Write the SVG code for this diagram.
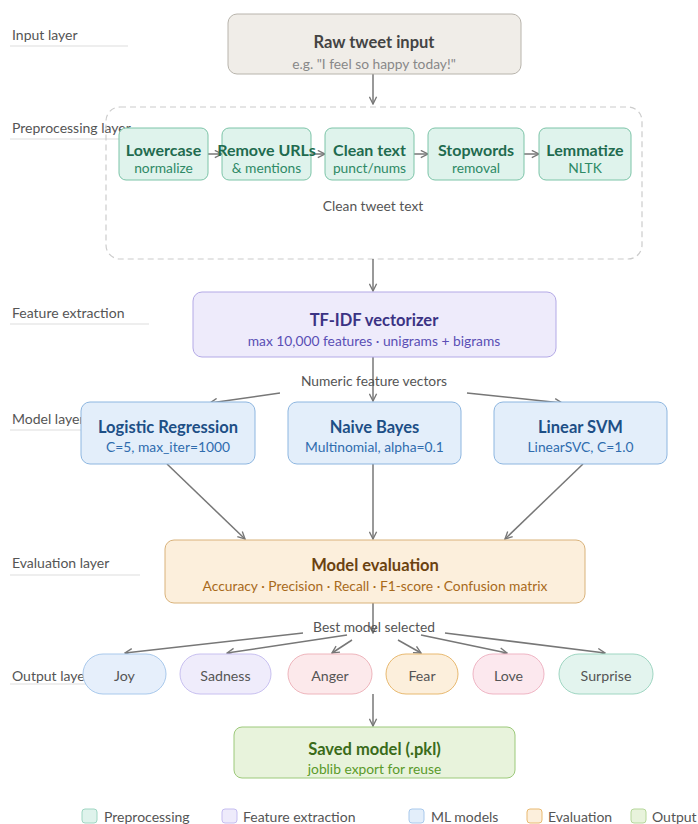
<svg xmlns="http://www.w3.org/2000/svg" width="698" height="824" viewBox="0 0 698 824">
<defs>
<marker id="ah" viewBox="0 0 10 10" refX="9" refY="5" markerWidth="9" markerHeight="9" markerUnits="userSpaceOnUse" orient="auto">
<path d="M1,1 L9,5 L1,9" fill="none" stroke="#777" stroke-width="1.5"/>
</marker>
<style>
text{font-family:Lato,"Noto Sans","Liberation Sans",sans-serif;}
.lbl{font-size:14px;fill:#555;}
.uline{stroke:#ddd;stroke-width:1.2;}
.t{font-size:16.5px;font-weight:bold;text-anchor:middle;}
.s{font-size:13.8px;text-anchor:middle;}
.c{stroke:#777;stroke-width:1.5;fill:none;marker-end:url(#ah);}
.cl{font-size:13.8px;fill:#555;text-anchor:middle;}
.pre rect{fill:#dff3ec;stroke:#7cc4a8;stroke-width:1;}
.pre .t{fill:#1f6b4f;font-size:16px;}
.pre .s{fill:#2e8a66;}
.ml rect{fill:#e3eefa;stroke:#8db6e0;stroke-width:1;}
.ml .t{fill:#1d4f86;}
.ml .s{fill:#2f6cae;}
.pill text{font-size:14.2px;fill:#555;text-anchor:middle;}
.leg text{font-size:14px;fill:#555;}
</style>
</defs>
<rect width="698" height="824" fill="#fff"/>

<g id="layer-labels">
<text class="lbl" x="12" y="40">Input layer</text><line class="uline" x1="10" y1="46" x2="128" y2="46"/>
<text class="lbl" x="12" y="133">Preprocessing layer</text><line class="uline" x1="10" y1="139" x2="130" y2="139"/>
<text class="lbl" x="12" y="318">Feature extraction</text><line class="uline" x1="10" y1="324" x2="149" y2="324"/>
<text class="lbl" x="12" y="424">Model layer</text><line class="uline" x1="10" y1="430" x2="120" y2="430"/>
<text class="lbl" x="12" y="568">Evaluation layer</text><line class="uline" x1="10" y1="575" x2="140" y2="575"/>
<text class="lbl" x="12" y="681">Output layer</text><line class="uline" x1="10" y1="684" x2="120" y2="684"/>
</g>

<g id="preprocessing-group">
<rect x="106" y="107" width="536" height="152" rx="14" fill="none" stroke="#ccc" stroke-width="1.2" stroke-dasharray="6 4"/>
<text class="cl" x="373" y="211">Clean tweet text</text>
</g>

<g id="connectors">
<line class="c" x1="373" y1="74" x2="373" y2="104"/>
<line class="c" x1="208" y1="154" x2="222" y2="154"/>
<line class="c" x1="311" y1="154" x2="325" y2="154"/>
<line class="c" x1="414" y1="154" x2="428" y2="154"/>
<line class="c" x1="524" y1="154" x2="539" y2="154"/>
<line class="c" x1="373" y1="259" x2="373" y2="291"/>
<line class="c" x1="373" y1="357" x2="373" y2="401"/>
<line class="c" x1="280" y1="393" x2="210" y2="403"/>
<line class="c" x1="467" y1="393" x2="562" y2="403"/>
<line class="c" x1="167" y1="464" x2="245" y2="539"/>
<line class="c" x1="373" y1="464" x2="373" y2="539"/>
<line class="c" x1="583" y1="464" x2="505" y2="539"/>
<line class="c" x1="373" y1="603" x2="373" y2="633"/>
<line class="c" x1="303" y1="633" x2="125" y2="653"/>
<line class="c" x1="347" y1="635" x2="227" y2="653"/>
<line class="c" x1="352" y1="640" x2="332" y2="653"/>
<line class="c" x1="398" y1="640" x2="421" y2="653"/>
<line class="c" x1="421" y1="635" x2="507" y2="653"/>
<line class="c" x1="445" y1="633" x2="605" y2="653"/>
<line class="c" x1="373" y1="694" x2="373" y2="726"/>
<text class="cl" x="374" y="386">Numeric feature vectors</text>
<text class="cl" x="374" y="632">Best model selected</text>
</g>

<g id="raw-input">
<rect x="228" y="14" width="293" height="60" rx="9" fill="#f0ede8" stroke="#b8b4ac"/>
<text class="t" x="374" y="48" fill="#444">Raw tweet input</text>
<text class="s" x="374" y="69" fill="#888">e.g. "I feel so happy today!"</text>
</g>

<g id="lowercase" class="pre"><rect x="119" y="128" width="89" height="52" rx="7"/><text class="t" x="163.5" y="156">Lowercase</text><text class="s" x="163.5" y="173">normalize</text></g>
<g id="remove-urls" class="pre"><rect x="222" y="128" width="89" height="52" rx="7"/><text class="t" x="266.5" y="156">Remove URLs</text><text class="s" x="266.5" y="173">&amp; mentions</text></g>
<g id="clean-text" class="pre"><rect x="325" y="128" width="89" height="52" rx="7"/><text class="t" x="369.5" y="156">Clean text</text><text class="s" x="369.5" y="173">punct/nums</text></g>
<g id="stopwords" class="pre"><rect x="428" y="128" width="96" height="52" rx="7"/><text class="t" x="476" y="156">Stopwords</text><text class="s" x="476" y="173">removal</text></g>
<g id="lemmatize" class="pre"><rect x="539" y="128" width="92" height="52" rx="7"/><text class="t" x="585" y="156">Lemmatize</text><text class="s" x="585" y="173">NLTK</text></g>

<g id="tfidf">
<rect x="193" y="292" width="363" height="65" rx="9" fill="#eeebfb" stroke="#b3a9e6"/>
<text class="t" x="374" y="326" fill="#3b3384">TF-IDF vectorizer</text>
<text class="s" x="374" y="346" fill="#5a4fb5">max 10,000 features · unigrams + bigrams</text>
</g>

<g id="logistic-regression" class="ml"><rect x="81" y="402" width="174" height="62" rx="9"/><text class="t" x="168" y="433">Logistic Regression</text><text class="s" x="168" y="452">C=5, max_iter=1000</text></g>
<g id="naive-bayes" class="ml"><rect x="288" y="402" width="173" height="62" rx="9"/><text class="t" x="374.5" y="433">Naive Bayes</text><text class="s" x="374.5" y="452">Multinomial, alpha=0.1</text></g>
<g id="linear-svm" class="ml"><rect x="494" y="402" width="173" height="62" rx="9"/><text class="t" x="580.5" y="433">Linear SVM</text><text class="s" x="580.5" y="452">LinearSVC, C=1.0</text></g>

<g id="evaluation">
<rect x="165" y="540" width="420" height="63" rx="9" fill="#fcefdc" stroke="#d9b27a"/>
<text class="t" x="375" y="571" fill="#6b4210">Model evaluation</text>
<text class="s" x="375" y="591" fill="#a86a1b">Accuracy · Precision · Recall · F1-score · Confusion matrix</text>
</g>

<g id="joy" class="pill"><rect x="83" y="654" width="83" height="40" rx="20" fill="#e6effb" stroke="#a9c9ec"/><text x="124.5" y="681">Joy</text></g>
<g id="sadness" class="pill"><rect x="180" y="654" width="91" height="40" rx="20" fill="#efecfb" stroke="#c8c0f0"/><text x="225.5" y="681">Sadness</text></g>
<g id="anger" class="pill"><rect x="288" y="654" width="84" height="40" rx="20" fill="#fce9eb" stroke="#eeb5bc"/><text x="330" y="681">Anger</text></g>
<g id="fear" class="pill"><rect x="386" y="654" width="72" height="40" rx="20" fill="#fcefdc" stroke="#e8b970"/><text x="422" y="681">Fear</text></g>
<g id="love" class="pill"><rect x="473" y="654" width="71" height="40" rx="20" fill="#fce8ee" stroke="#efb5c4"/><text x="508.5" y="681">Love</text></g>
<g id="surprise" class="pill"><rect x="559" y="654" width="94" height="40" rx="20" fill="#e3f4ee" stroke="#9fd6c2"/><text x="606" y="681">Surprise</text></g>

<g id="saved-model">
<rect x="234" y="727" width="281" height="51" rx="8" fill="#e8f3dc" stroke="#9cc97a"/>
<text class="t" x="374.5" y="755" fill="#3a6b1a">Saved model (.pkl)</text>
<text class="s" x="374.5" y="774" fill="#5a9a2a">joblib export for reuse</text>
</g>

<g id="legend" class="leg">
<rect x="82" y="809" width="15" height="14" rx="3" fill="#dff3ec" stroke="#9fd6c2"/><text x="104" y="822">Preprocessing</text>
<rect x="222" y="809" width="15" height="14" rx="3" fill="#eeebfb" stroke="#c5bdf0"/><text x="243" y="822">Feature extraction</text>
<rect x="409" y="809" width="15" height="14" rx="3" fill="#e3eefa" stroke="#a9c9ec"/><text x="431" y="822">ML models</text>
<rect x="527" y="809" width="15" height="14" rx="3" fill="#fcefdc" stroke="#e8b970"/><text x="548" y="822">Evaluation</text>
<rect x="631" y="809" width="15" height="14" rx="3" fill="#e8f3dc" stroke="#b5d79a"/><text x="652" y="822">Output</text>
</g>
</svg>
